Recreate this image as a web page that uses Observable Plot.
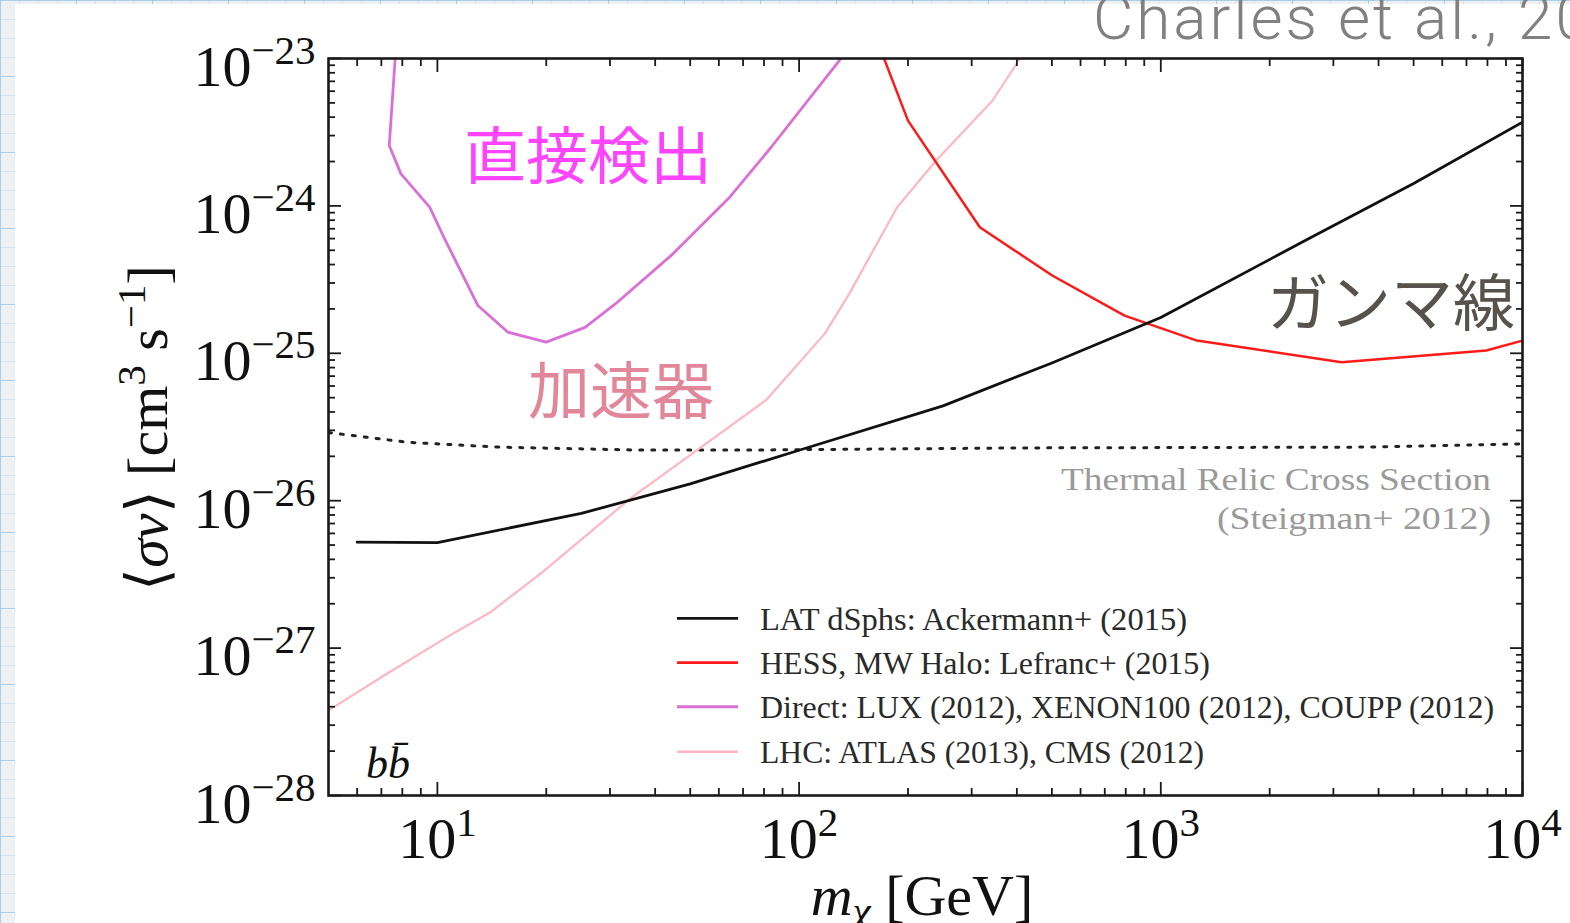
<!DOCTYPE html>
<html lang="ja">
<head>
<meta charset="utf-8">
<script src="https://cdn.jsdelivr.net/npm/d3@7"></script>
<script src="https://cdn.jsdelivr.net/npm/@observablehq/plot@0.6"></script>
<style>
html, body { margin:0; padding:0; width:1570px; height:923px; overflow:hidden; }
body {
  position:relative;
  background-color:#eef1f3;
  background-image:
    linear-gradient(to bottom, rgba(140,190,230,0.6) 1px, transparent 1px),
    linear-gradient(to right, rgba(140,190,230,0.6) 1px, transparent 1px),
    linear-gradient(to bottom, rgba(170,210,235,0.4) 1px, transparent 1px),
    linear-gradient(to right, rgba(170,210,235,0.4) 1px, transparent 1px);
  background-size: 76px 76px, 76px 76px, 19px 19px, 19px 19px;
}
#card { position:absolute; left:15px; top:4px; width:1555px; height:919px; background:#fff; }
#chart, #ann { position:absolute; left:0; top:0; }
#ann { pointer-events:none; }
</style>
</head>
<body>
<div id="card"></div>
<div id="chart"></div>
<svg id="ann" width="1570" height="923" xmlns="http://www.w3.org/2000/svg">
  <text x="1093" y="39" font-family="Roboto, 'Open Sans', sans-serif" font-weight="300" font-size="62" letter-spacing="3" fill="#808080">Charles et al., 2016</text>

  <text x="588" y="179" text-anchor="middle" font-family="'Noto Sans CJK JP'" font-size="62" fill="#ff44ff">直接検出</text>
  <text x="621" y="414" text-anchor="middle" font-family="'Noto Sans CJK JP'" font-size="62" fill="#e2869a">加速器</text>
  <text x="1391" y="326" text-anchor="middle" font-family="'Noto Sans CJK JP'" font-size="62" fill="#57534c">ガンマ線</text>

  <text transform="translate(167,428) rotate(-90)" text-anchor="middle" font-family="'Liberation Serif', serif" font-size="58" fill="#111">⟨<tspan font-style="italic">σv</tspan>⟩ [cm<tspan dy="-22" font-size="41">3</tspan><tspan dy="22"> s</tspan><tspan dy="-22" font-size="41">−1</tspan><tspan dy="22">]</tspan></text>
  <text x="922" y="915" text-anchor="middle" font-family="'Liberation Serif', serif" font-size="58" fill="#111"><tspan font-style="italic">m</tspan><tspan font-style="italic" font-size="41" dy="10">χ</tspan><tspan dy="-10"> [GeV]</tspan></text>

  <text x="366" y="778" font-family="'Liberation Serif', serif" font-style="italic" font-size="44" fill="#111">bb̄</text>

  <g font-family="'Liberation Serif', serif" font-size="32" fill="#9a9a9a" text-anchor="end">
    <text x="1491" y="490" textLength="430" lengthAdjust="spacingAndGlyphs">Thermal Relic Cross Section</text>
    <text x="1491" y="529" textLength="274" lengthAdjust="spacingAndGlyphs">(Steigman+ 2012)</text>
  </g>

  <g font-family="'Liberation Serif', serif" font-size="32" fill="#2a2a2a">
    <line x1="677" x2="738" y1="618.3" y2="618.3" stroke="#111" stroke-width="2.8"/>
    <text x="760" y="630" textLength="427" lengthAdjust="spacingAndGlyphs">LAT dSphs:  Ackermann+ (2015)</text>
    <line x1="677" x2="738" y1="662.7" y2="662.7" stroke="#ff1a1a" stroke-width="2.8"/>
    <text x="760" y="673.5" textLength="450" lengthAdjust="spacingAndGlyphs">HESS, MW Halo: Lefranc+ (2015)</text>
    <line x1="677" x2="738" y1="706.7" y2="706.7" stroke="#da70d6" stroke-width="3"/>
    <text x="760" y="718" textLength="734" lengthAdjust="spacingAndGlyphs">Direct:  LUX (2012), XENON100 (2012), COUPP (2012)</text>
    <line x1="677" x2="738" y1="751.7" y2="751.7" stroke="#ffb6c1" stroke-width="2.6"/>
    <text x="760" y="762.5" textLength="444" lengthAdjust="spacingAndGlyphs">LHC: ATLAS (2013), CMS (2012)</text>
  </g>
</svg>
<script>
// ---- data ----
const latMass    = [6, 10, 25, 50, 100, 250, 500, 1000, 2500, 5000, 10000];
const latSigmaV  = [5.23e-27, 5.2e-27, 8.2e-27, 1.30e-26, 2.20e-26, 4.4e-26, 8.6e-26, 1.75e-25, 5.8e-25, 1.42e-24, 3.7e-24];

const hessMass   = [126, 200, 316, 501, 794, 1259, 3162, 7943, 10000];
const hessSigmaV = [7.2e-23, 3.79e-24, 7.17e-25, 3.37e-25, 1.80e-25, 1.22e-25, 8.7e-26, 1.045e-25, 1.22e-25];

const directMass   = [7.7, 7.36, 7.93, 9.52, 10.42, 11.95, 12.94, 15.67, 20, 25.6, 31.1, 44.8, 64.4, 83.7, 142];
const directSigmaV = [1.3e-23, 2.57e-24, 1.65e-24, 9.8e-25, 6.13e-25, 3.12e-25, 2.11e-25, 1.39e-25, 1.19e-25, 1.50e-25, 2.17e-25, 4.73e-25, 1.15e-24, 2.50e-24, 1.3e-23];

const lhcMass   = [5, 7.25, 10.83, 14.0, 19.45, 34.4, 80.9, 117.8, 137.7, 186.7, 239.3, 342.8, 404.6, 440];
const lhcSigmaV = [3.78e-28, 6.70e-28, 1.22e-27, 1.75e-27, 3.25e-27, 1.05e-26, 4.79e-26, 1.36e-25, 2.54e-25, 9.8e-25, 2.03e-24, 5.19e-24, 9.69e-24, 1.32e-23];

const relicMass   = [5, 8.28, 14.7, 34.4, 80.7, 407, 3639, 10000];
const relicSigmaV = [2.90e-26, 2.49e-26, 2.31e-26, 2.21e-26, 2.21e-26, 2.28e-26, 2.31e-26, 2.43e-26];

const xMajor = [10, 100, 1000, 10000];
const yMajor = [1e-28, 1e-27, 1e-26, 1e-25, 1e-24, 1e-23];
const xTickLabels = ["10^1", "10^2", "10^3", "10^4"];
const yTickLabels = ["10^-28", "10^-27", "10^-26", "10^-25", "10^-24", "10^-23"];

const xMinor = [];
for (const d of [1, 10, 100, 1000]) for (let k = 2; k <= 9; k++) { const v = k * d; if (v > 5 && v < 10000) xMinor.push(v); }
const yMinor = [];
for (let e = -28; e <= -24; e++) for (let k = 2; k <= 9; k++) yMinor.push(k * Math.pow(10, e));

const rows = (ms, vs) => ms.map((m, i) => ({m, s: vs[i]}));
const fmtX = d => xTickLabels[xMajor.indexOf(d)] ?? "";
const fmtY = d => yTickLabels[yMajor.findIndex(v => Math.abs(Math.log10(v) - Math.log10(d)) < 1e-6)] ?? "";
const blank = () => "";

const tickStyle = {stroke: "#1a1a1a", strokeWidth: 1.8, label: null};

const plot = Plot.plot({
  width: 1570, height: 923,
  marginLeft: 328, marginRight: 48, marginTop: 58, marginBottom: 128,
  style: {background: "transparent", fontFamily: "'Liberation Serif', serif", fontSize: "58px", color: "#111", overflow: "visible"},
  x: {type: "log", domain: [5, 1e4], label: null},
  y: {type: "log", domain: [1e-28, 1e-23], label: null},
  marks: [
    Plot.line(rows(relicMass, relicSigmaV), {x: "m", y: "s", stroke: "#222", strokeWidth: 3, strokeDasharray: "3 9", clip: true}),
    Plot.line(rows(lhcMass, lhcSigmaV), {x: "m", y: "s", stroke: "#ffb6c1", strokeWidth: 2.2, clip: true}),
    Plot.line(rows(directMass, directSigmaV), {x: "m", y: "s", stroke: "#da70d6", strokeWidth: 2.8, clip: true}),
    Plot.line(rows(hessMass, hessSigmaV), {x: "m", y: "s", stroke: "#ff1a1a", strokeWidth: 2.5, clip: true}),
    Plot.line(rows(latMass, latSigmaV), {x: "m", y: "s", stroke: "#111", strokeWidth: 2.8, clip: true}),

    Plot.axisX({anchor: "bottom", ticks: xMajor, tickSize: -13, tickFormat: blank, ...tickStyle}),
    Plot.axisX({anchor: "bottom", ticks: xMinor, tickSize: -7, tickFormat: blank, ...tickStyle}),
    Plot.axisX({anchor: "top", ticks: xMajor, tickSize: -13, tickFormat: blank, ...tickStyle}),
    Plot.axisX({anchor: "top", ticks: xMinor, tickSize: -7, tickFormat: blank, ...tickStyle}),
    Plot.axisY({anchor: "left", ticks: yMajor, tickSize: -13, tickFormat: blank, ...tickStyle}),
    Plot.axisY({anchor: "left", ticks: yMinor, tickSize: -7, tickFormat: blank, ...tickStyle}),
    Plot.axisY({anchor: "right", ticks: yMajor, tickSize: -13, tickFormat: blank, ...tickStyle}),
    Plot.axisY({anchor: "right", ticks: yMinor, tickSize: -7, tickFormat: blank, ...tickStyle}),

    Plot.axisX({anchor: "bottom", ticks: xMajor, tickSize: 0, tickPadding: 21, tickFormat: fmtX, label: null, fill: "#111"}),
    Plot.axisY({anchor: "left", ticks: yMajor, tickSize: 0, tickPadding: 13, tickFormat: fmtY, dy: 8.5, label: null, fill: "#111"}),

    Plot.frame({stroke: "#1a1a1a", strokeWidth: 2.6})
  ]
});

// render superscripts in tick labels
const NS = "http://www.w3.org/2000/svg";
plot.querySelectorAll("text").forEach(t => {
  const m = (t.textContent || "").match(/^10\^(-?\d+)$/);
  if (!m) return;
  t.textContent = "";
  const a = document.createElementNS(NS, "tspan");
  a.textContent = "10";
  const b = document.createElementNS(NS, "tspan");
  b.textContent = m[1].replace("-", "\u2212");
  b.setAttribute("dy", "-22");
  b.setAttribute("font-size", "41");
  t.append(a, b);
});

document.getElementById("chart").append(plot);
</script>
</body>
</html>
